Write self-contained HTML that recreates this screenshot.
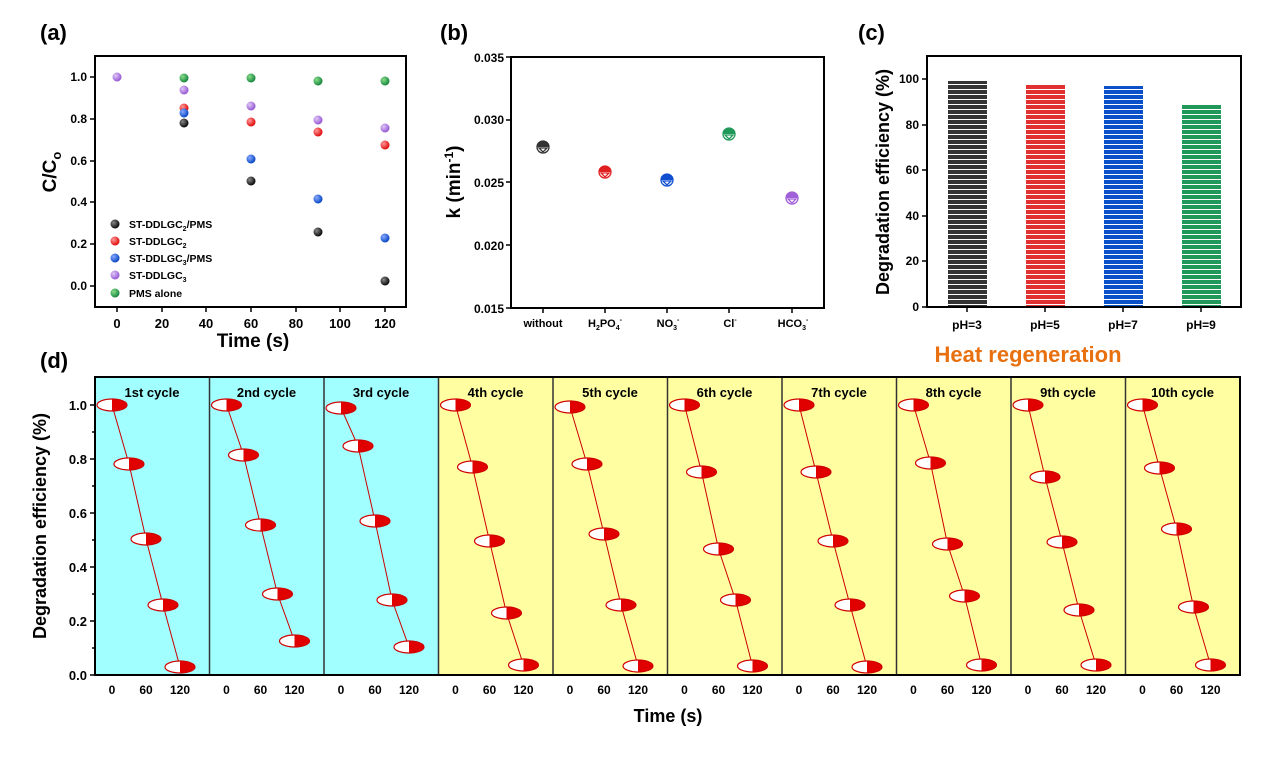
<!DOCTYPE html>
<html><head><meta charset="utf-8"><style>
body{margin:0;background:#fff}
svg{display:block;font-family:"Liberation Sans",Arial,sans-serif;font-weight:bold}
</style></head><body>
<svg width="1268" height="766" viewBox="0 0 1268 766" xmlns="http://www.w3.org/2000/svg">
<defs>
<radialGradient id="gk" cx="0.35" cy="0.35" r="0.7"><stop offset="0" stop-color="#888"/><stop offset="1" stop-color="#000"/></radialGradient>
<radialGradient id="gr" cx="0.35" cy="0.35" r="0.7"><stop offset="0" stop-color="#f99"/><stop offset="1" stop-color="#d00"/></radialGradient>
<radialGradient id="gb" cx="0.35" cy="0.35" r="0.7"><stop offset="0" stop-color="#8af"/><stop offset="1" stop-color="#0040c0"/></radialGradient>
<radialGradient id="gp" cx="0.35" cy="0.35" r="0.7"><stop offset="0" stop-color="#e0c8f8"/><stop offset="1" stop-color="#9050d0"/></radialGradient>
<radialGradient id="gg" cx="0.35" cy="0.35" r="0.7"><stop offset="0" stop-color="#8d8"/><stop offset="1" stop-color="#10803a"/></radialGradient>
<g id="m"><ellipse cx="0" cy="0" rx="15" ry="6" fill="#fff"/><path d="M0,-6 A15,6 0 0 1 0,6 Z" fill="#e00000"/><ellipse cx="0" cy="0" rx="15" ry="6" fill="none" stroke="#d00000" stroke-width="1.2"/></g>
<pattern id="stripe" width="10" height="5" patternUnits="userSpaceOnUse"><rect width="10" height="5" fill="none"/><rect y="4" width="10" height="1.3" fill="#fff"/></pattern>
</defs>

<!-- (a) -->
<text x="40" y="40" font-size="22" font-weight="normal" style="font-weight:bold">(a)</text>
<rect x="95" y="56" width="311" height="251" fill="none" stroke="#000" stroke-width="2"/>
<g stroke="#000" stroke-width="1.5">
<line x1="90" y1="77" x2="95" y2="77"/><line x1="90" y1="119" x2="95" y2="119"/><line x1="90" y1="161" x2="95" y2="161"/><line x1="90" y1="202" x2="95" y2="202"/><line x1="90" y1="244" x2="95" y2="244"/><line x1="90" y1="286" x2="95" y2="286"/>
<line x1="117" y1="307" x2="117" y2="312"/><line x1="162" y1="307" x2="162" y2="312"/><line x1="206" y1="307" x2="206" y2="312"/><line x1="251" y1="307" x2="251" y2="312"/><line x1="296" y1="307" x2="296" y2="312"/><line x1="340" y1="307" x2="340" y2="312"/><line x1="385" y1="307" x2="385" y2="312"/>
</g>
<g font-size="12" text-anchor="end">
<text x="87" y="81">1.0</text><text x="87" y="123">0.8</text><text x="87" y="165">0.6</text><text x="87" y="206">0.4</text><text x="87" y="248">0.2</text><text x="87" y="290">0.0</text>
</g>
<g font-size="13" text-anchor="middle">
<text x="117" y="328">0</text><text x="162" y="328">20</text><text x="206" y="328">40</text><text x="251" y="328">60</text><text x="296" y="328">80</text><text x="340" y="328">100</text><text x="385" y="328">120</text>
</g>
<text x="253" y="347" font-size="19" text-anchor="middle">Time (s)</text>
<text transform="translate(56,172) rotate(-90)" font-size="19" text-anchor="middle">C/C<tspan font-size="13" dy="5">o</tspan></text>
<g>
<circle cx="117" cy="77" r="4.5" fill="url(#gp)"/>
<circle cx="184" cy="78" r="4.5" fill="url(#gg)"/><circle cx="251" cy="78" r="4.5" fill="url(#gg)"/><circle cx="318" cy="81" r="4.5" fill="url(#gg)"/><circle cx="385" cy="81" r="4.5" fill="url(#gg)"/>
<circle cx="184" cy="90" r="4.5" fill="url(#gp)"/><circle cx="251" cy="106" r="4.5" fill="url(#gp)"/><circle cx="318" cy="120" r="4.5" fill="url(#gp)"/><circle cx="385" cy="128" r="4.5" fill="url(#gp)"/>
<circle cx="184" cy="108" r="4.5" fill="url(#gr)"/><circle cx="251" cy="122" r="4.5" fill="url(#gr)"/><circle cx="318" cy="132" r="4.5" fill="url(#gr)"/><circle cx="385" cy="145" r="4.5" fill="url(#gr)"/>
<circle cx="184" cy="113" r="4.5" fill="url(#gb)"/><circle cx="251" cy="159" r="4.5" fill="url(#gb)"/><circle cx="318" cy="199" r="4.5" fill="url(#gb)"/><circle cx="385" cy="238" r="4.5" fill="url(#gb)"/>
<circle cx="184" cy="123" r="4.5" fill="url(#gk)"/><circle cx="251" cy="181" r="4.5" fill="url(#gk)"/><circle cx="318" cy="232" r="4.5" fill="url(#gk)"/><circle cx="385" cy="281" r="4.5" fill="url(#gk)"/>
<circle cx="115" cy="224" r="4.5" fill="url(#gk)"/><circle cx="115" cy="241" r="4.5" fill="url(#gr)"/><circle cx="115" cy="258" r="4.5" fill="url(#gb)"/><circle cx="115" cy="275" r="4.5" fill="url(#gp)"/><circle cx="115" cy="293" r="4.5" fill="url(#gg)"/>
</g>
<g font-size="10.5">
<text x="129" y="228">ST-DDLGC<tspan font-size="7" dy="3">2</tspan><tspan dy="-3">/PMS</tspan></text>
<text x="129" y="245">ST-DDLGC<tspan font-size="7" dy="3">2</tspan></text>
<text x="129" y="262">ST-DDLGC<tspan font-size="7" dy="3">3</tspan><tspan dy="-3">/PMS</tspan></text>
<text x="129" y="279">ST-DDLGC<tspan font-size="7" dy="3">3</tspan></text>
<text x="129" y="297">PMS alone</text>
</g>

<!-- (b) -->
<text x="440" y="40" font-size="22">(b)</text>
<rect x="511" y="57" width="313" height="251" fill="none" stroke="#000" stroke-width="2"/>
<g stroke="#000" stroke-width="1.5">
<line x1="506" y1="57" x2="511" y2="57"/><line x1="506" y1="120" x2="511" y2="120"/><line x1="506" y1="182" x2="511" y2="182"/><line x1="506" y1="245" x2="511" y2="245"/><line x1="506" y1="308" x2="511" y2="308"/>
<line x1="543" y1="308" x2="543" y2="313"/><line x1="605" y1="308" x2="605" y2="313"/><line x1="667" y1="308" x2="667" y2="313"/><line x1="729" y1="308" x2="729" y2="313"/><line x1="792" y1="308" x2="792" y2="313"/>
</g>
<g font-size="12" text-anchor="end">
<text x="504" y="62">0.035</text><text x="504" y="124">0.030</text><text x="504" y="187">0.025</text><text x="504" y="250">0.020</text><text x="504" y="313">0.015</text>
</g>
<g font-size="11" text-anchor="middle">
<text x="543" y="327">without</text>
<text x="605" y="327">H<tspan font-size="7" dy="3">2</tspan><tspan dy="-3">PO</tspan><tspan font-size="7" dy="3">4</tspan><tspan font-size="7" dy="-8">-</tspan></text>
<text x="668" y="327">NO<tspan font-size="7" dy="3">3</tspan><tspan font-size="7" dy="-8">-</tspan></text>
<text x="730" y="327">Cl<tspan font-size="7" dy="-5">-</tspan></text>
<text x="793" y="327">HCO<tspan font-size="7" dy="3">3</tspan><tspan font-size="7" dy="-8">-</tspan></text>
</g>
<text transform="translate(460,182) rotate(-90)" font-size="19" text-anchor="middle">k (min<tspan font-size="12" dy="-7">-1</tspan><tspan dy="7">)</tspan></text>
<g stroke-width="1.3">
<g transform="translate(543,147)"><circle r="6" fill="#fff" stroke="#333"/><path d="M-6,0 A6,6 0 0 1 6,0 Z" fill="#333"/><path d="M-4,1 L4,1 L0,5 Z" fill="none" stroke="#333"/></g>
<g transform="translate(605,172)"><circle r="6" fill="#fff" stroke="#e02020"/><path d="M-6,0 A6,6 0 0 1 6,0 Z" fill="#e02020"/><path d="M-4,1 L4,1 L0,5 Z" fill="none" stroke="#e02020"/></g>
<g transform="translate(667,180)"><circle r="6" fill="#fff" stroke="#1050d0"/><path d="M-6,0 A6,6 0 0 1 6,0 Z" fill="#1050d0"/><path d="M-4,1 L4,1 L0,5 Z" fill="none" stroke="#1050d0"/></g>
<g transform="translate(729,134)"><circle r="6" fill="#fff" stroke="#20985a"/><path d="M-6,0 A6,6 0 0 1 6,0 Z" fill="#20985a"/><path d="M-4,1 L4,1 L0,5 Z" fill="none" stroke="#20985a"/></g>
<g transform="translate(792,198)"><circle r="6" fill="#fff" stroke="#a060d8"/><path d="M-6,0 A6,6 0 0 1 6,0 Z" fill="#a060d8"/><path d="M-4,1 L4,1 L0,5 Z" fill="none" stroke="#a060d8"/></g>
</g>

<!-- (c) -->
<text x="858" y="40" font-size="22">(c)</text>
<g>
<rect x="948" y="81" width="39" height="226" fill="#333"/><rect x="948" y="81" width="39" height="226" fill="url(#stripe)"/>
<rect x="1026" y="84" width="39" height="223" fill="#e03030"/><rect x="1026" y="84" width="39" height="223" fill="url(#stripe)"/>
<rect x="1104" y="86" width="39" height="221" fill="#0a50c8"/><rect x="1104" y="86" width="39" height="221" fill="url(#stripe)"/>
<rect x="1182" y="104" width="39" height="203" fill="#20985a"/><rect x="1182" y="104" width="39" height="203" fill="url(#stripe)"/>
</g>
<rect x="927" y="56" width="314" height="251" fill="none" stroke="#000" stroke-width="2"/>
<g stroke="#000" stroke-width="1.5">
<line x1="922" y1="79" x2="927" y2="79"/><line x1="922" y1="125" x2="927" y2="125"/><line x1="922" y1="170" x2="927" y2="170"/><line x1="922" y1="216" x2="927" y2="216"/><line x1="922" y1="261" x2="927" y2="261"/><line x1="922" y1="307" x2="927" y2="307"/>
<line x1="967" y1="307" x2="967" y2="312"/><line x1="1045" y1="307" x2="1045" y2="312"/><line x1="1123" y1="307" x2="1123" y2="312"/><line x1="1201" y1="307" x2="1201" y2="312"/>
</g>
<g font-size="12" text-anchor="end">
<text x="919" y="83">100</text><text x="919" y="129">80</text><text x="919" y="174">60</text><text x="919" y="220">40</text><text x="919" y="265">20</text><text x="919" y="311">0</text>
</g>
<g font-size="12" text-anchor="middle">
<text x="967" y="329">pH=3</text><text x="1045" y="329">pH=5</text><text x="1123" y="329">pH=7</text><text x="1201" y="329">pH=9</text>
</g>
<text transform="translate(889,182) rotate(-90)" font-size="18" text-anchor="middle">Degradation efficiency (%)</text>
<text x="1028" y="362" font-size="22" fill="#e8700f" text-anchor="middle">Heat regeneration</text>

<!-- (d) -->
<text x="40" y="368" font-size="22">(d)</text>
<rect x="95" y="377" width="343.5" height="298" fill="#a2ffff"/>
<rect x="438.5" y="377" width="801.5" height="298" fill="#ffffa2"/>
<g stroke="#333" stroke-width="1.5">
<line x1="209.5" y1="377" x2="209.5" y2="675"/><line x1="324" y1="377" x2="324" y2="675"/><line x1="438.5" y1="377" x2="438.5" y2="675"/><line x1="553" y1="377" x2="553" y2="675"/><line x1="667.5" y1="377" x2="667.5" y2="675"/><line x1="782" y1="377" x2="782" y2="675"/><line x1="896.5" y1="377" x2="896.5" y2="675"/><line x1="1011" y1="377" x2="1011" y2="675"/><line x1="1125.5" y1="377" x2="1125.5" y2="675"/>
</g>
<rect x="95" y="377" width="1145" height="298" fill="none" stroke="#000" stroke-width="2"/>
<g stroke="#000" stroke-width="1.5">
<line x1="90" y1="405" x2="95" y2="405"/><line x1="92" y1="432" x2="95" y2="432"/><line x1="90" y1="459" x2="95" y2="459"/><line x1="92" y1="486" x2="95" y2="486"/><line x1="90" y1="513" x2="95" y2="513"/><line x1="92" y1="540" x2="95" y2="540"/><line x1="90" y1="567" x2="95" y2="567"/><line x1="92" y1="594" x2="95" y2="594"/><line x1="90" y1="621" x2="95" y2="621"/><line x1="92" y1="648" x2="95" y2="648"/><line x1="90" y1="675" x2="95" y2="675"/>
</g>
<g font-size="13" text-anchor="end">
<text x="87" y="410">1.0</text><text x="87" y="464">0.8</text><text x="87" y="518">0.6</text><text x="87" y="572">0.4</text><text x="87" y="626">0.2</text><text x="87" y="680">0.0</text>
</g>
<text transform="translate(46,526) rotate(-90)" font-size="18" text-anchor="middle">Degradation efficiency (%)</text>
<text x="668" y="722" font-size="18" text-anchor="middle">Time (s)</text>

<g transform="translate(95,0)"><text x="57" y="397" font-size="13" text-anchor="middle">1st cycle</text><polyline points="17,405 34,464 51,539 68,605 85,667" fill="none" stroke="#c00" stroke-width="1"/><use href="#m" x="17" y="405"/><use href="#m" x="34" y="464"/><use href="#m" x="51" y="539"/><use href="#m" x="68" y="605"/><use href="#m" x="85" y="667"/><g font-size="12" text-anchor="middle"><text x="17" y="694">0</text><text x="51" y="694">60</text><text x="85" y="694">120</text></g></g>
<g transform="translate(209.5,0)"><text x="57" y="397" font-size="13" text-anchor="middle">2nd cycle</text><polyline points="17,405 34,455 51,525 68,594 85,641" fill="none" stroke="#c00" stroke-width="1"/><use href="#m" x="17" y="405"/><use href="#m" x="34" y="455"/><use href="#m" x="51" y="525"/><use href="#m" x="68" y="594"/><use href="#m" x="85" y="641"/><g font-size="12" text-anchor="middle"><text x="17" y="694">0</text><text x="51" y="694">60</text><text x="85" y="694">120</text></g></g>
<g transform="translate(324,0)"><text x="57" y="397" font-size="13" text-anchor="middle">3rd cycle</text><polyline points="17,408 34,446 51,521 68,600 85,647" fill="none" stroke="#c00" stroke-width="1"/><use href="#m" x="17" y="408"/><use href="#m" x="34" y="446"/><use href="#m" x="51" y="521"/><use href="#m" x="68" y="600"/><use href="#m" x="85" y="647"/><g font-size="12" text-anchor="middle"><text x="17" y="694">0</text><text x="51" y="694">60</text><text x="85" y="694">120</text></g></g>
<g transform="translate(438.5,0)"><text x="57" y="397" font-size="13" text-anchor="middle">4th cycle</text><polyline points="17,405 34,467 51,541 68,613 85,665" fill="none" stroke="#c00" stroke-width="1"/><use href="#m" x="17" y="405"/><use href="#m" x="34" y="467"/><use href="#m" x="51" y="541"/><use href="#m" x="68" y="613"/><use href="#m" x="85" y="665"/><g font-size="12" text-anchor="middle"><text x="17" y="694">0</text><text x="51" y="694">60</text><text x="85" y="694">120</text></g></g>
<g transform="translate(553,0)"><text x="57" y="397" font-size="13" text-anchor="middle">5th cycle</text><polyline points="17,407 34,464 51,534 68,605 85,666" fill="none" stroke="#c00" stroke-width="1"/><use href="#m" x="17" y="407"/><use href="#m" x="34" y="464"/><use href="#m" x="51" y="534"/><use href="#m" x="68" y="605"/><use href="#m" x="85" y="666"/><g font-size="12" text-anchor="middle"><text x="17" y="694">0</text><text x="51" y="694">60</text><text x="85" y="694">120</text></g></g>
<g transform="translate(667.5,0)"><text x="57" y="397" font-size="13" text-anchor="middle">6th cycle</text><polyline points="17,405 34,472 51,549 68,600 85,666" fill="none" stroke="#c00" stroke-width="1"/><use href="#m" x="17" y="405"/><use href="#m" x="34" y="472"/><use href="#m" x="51" y="549"/><use href="#m" x="68" y="600"/><use href="#m" x="85" y="666"/><g font-size="12" text-anchor="middle"><text x="17" y="694">0</text><text x="51" y="694">60</text><text x="85" y="694">120</text></g></g>
<g transform="translate(782,0)"><text x="57" y="397" font-size="13" text-anchor="middle">7th cycle</text><polyline points="17,405 34,472 51,541 68,605 85,667" fill="none" stroke="#c00" stroke-width="1"/><use href="#m" x="17" y="405"/><use href="#m" x="34" y="472"/><use href="#m" x="51" y="541"/><use href="#m" x="68" y="605"/><use href="#m" x="85" y="667"/><g font-size="12" text-anchor="middle"><text x="17" y="694">0</text><text x="51" y="694">60</text><text x="85" y="694">120</text></g></g>
<g transform="translate(896.5,0)"><text x="57" y="397" font-size="13" text-anchor="middle">8th cycle</text><polyline points="17,405 34,463 51,544 68,596 85,665" fill="none" stroke="#c00" stroke-width="1"/><use href="#m" x="17" y="405"/><use href="#m" x="34" y="463"/><use href="#m" x="51" y="544"/><use href="#m" x="68" y="596"/><use href="#m" x="85" y="665"/><g font-size="12" text-anchor="middle"><text x="17" y="694">0</text><text x="51" y="694">60</text><text x="85" y="694">120</text></g></g>
<g transform="translate(1011,0)"><text x="57" y="397" font-size="13" text-anchor="middle">9th cycle</text><polyline points="17,405 34,477 51,542 68,610 85,665" fill="none" stroke="#c00" stroke-width="1"/><use href="#m" x="17" y="405"/><use href="#m" x="34" y="477"/><use href="#m" x="51" y="542"/><use href="#m" x="68" y="610"/><use href="#m" x="85" y="665"/><g font-size="12" text-anchor="middle"><text x="17" y="694">0</text><text x="51" y="694">60</text><text x="85" y="694">120</text></g></g>
<g transform="translate(1125.5,0)"><text x="57" y="397" font-size="13" text-anchor="middle">10th cycle</text><polyline points="17,405 34,468 51,529 68,607 85,665" fill="none" stroke="#c00" stroke-width="1"/><use href="#m" x="17" y="405"/><use href="#m" x="34" y="468"/><use href="#m" x="51" y="529"/><use href="#m" x="68" y="607"/><use href="#m" x="85" y="665"/><g font-size="12" text-anchor="middle"><text x="17" y="694">0</text><text x="51" y="694">60</text><text x="85" y="694">120</text></g></g>
</svg>
</body></html>
